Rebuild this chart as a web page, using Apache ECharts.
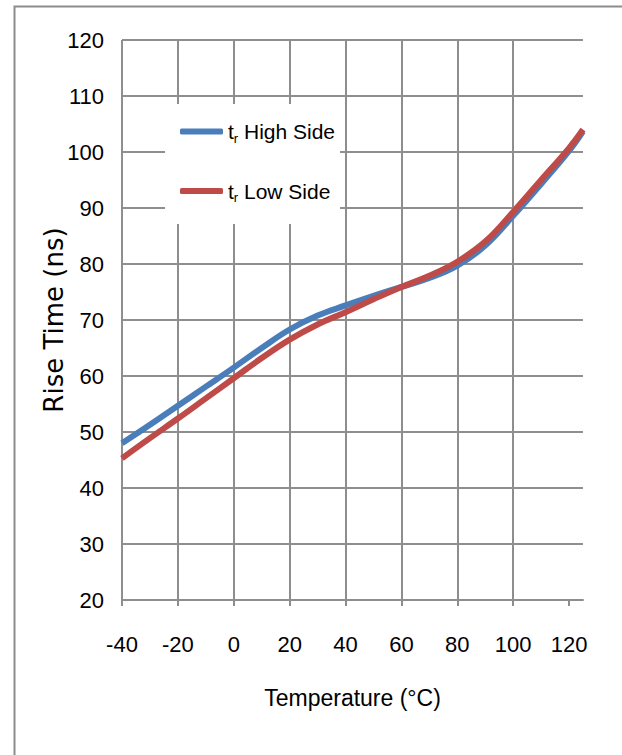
<!DOCTYPE html>
<html>
<head>
<meta charset="utf-8">
<script src="https://cdn.jsdelivr.net/npm/echarts@6/dist/echarts.min.js"></script>
<style>
html,body{margin:0;padding:0;background:#fff;}
#c{width:622px;height:755px;}
</style>
</head>
<body>
<div id="c"></div>
<script>
// Temperature (°C) sample points
const temps = [-40, -30, -20, -10, 0, 10, 20, 30, 40, 50, 60, 70, 80, 90, 100, 110, 120, 125];
// Rise time (ns)
const highSide = [48.0, 51.3, 54.7, 58.1, 61.5, 65.0, 68.3, 70.8, 72.6, 74.3, 75.9, 77.5, 79.7, 83.3, 88.6, 94.3, 100.2, 103.7];
const lowSide  = [45.3, 48.9, 52.4, 56.0, 59.6, 63.2, 66.5, 69.2, 71.4, 73.7, 75.9, 77.9, 80.4, 84.0, 89.3, 95.0, 100.7, 104.0];
const xTicks = [-40, -20, 0, 20, 40, 60, 80, 100, 120];
const seriesNames = ['High Side', 'Low Side'];

const FONT = "'Liberation Sans', Arial, sans-serif";
const GRID = '#8e8e8e';

const chart = echarts.init(document.getElementById('c'), null, {renderer: 'svg'});
const pairs = (vals) => temps.map((t, i) => [t, vals[i]]);

chart.setOption({
  backgroundColor: '#fff',
  animation: false,
  graphic: [{
    type: 'rect', left: 12, top: 4, shape: {width: 609, height: 800},
    style: {fill: 'none', stroke: '#8c8c8c', lineWidth: 2}, z: -10
  }],
  grid: {left: 122, right: 39, top: 40, bottom: 155},
  xAxis: {
    type: 'value', min: -40, max: 125, interval: 20,
    name: 'Temperature (°C)', nameLocation: 'middle', nameGap: 86, nameMoveOverlap: false,
    nameTextStyle: {fontFamily: FONT, fontSize: 23, color: '#000'},
    axisLine: {show: true, onZero: false, lineStyle: {color: GRID, width: 2}},
    axisTick: {show: true, length: 6, customValues: xTicks, lineStyle: {color: GRID, width: 2}},
    axisLabel: {customValues: xTicks, margin: 33, fontFamily: FONT, fontSize: 22, color: '#000'},
    splitLine: {show: true, showMaxLine: false, lineStyle: {color: GRID, width: 2}}
  },
  yAxis: {
    type: 'value', min: 20, max: 120, interval: 10,
    name: 'Rise Time (ns)', nameLocation: 'middle', nameGap: 55, nameMoveOverlap: false,
    nameTextStyle: {fontFamily: "'DejaVu Sans', sans-serif", fontSize: 26, color: '#000'},
    axisLine: {show: true, lineStyle: {color: GRID, width: 2}},
    axisTick: {show: true, length: 6, lineStyle: {color: GRID, width: 2}},
    axisLabel: {margin: 18, fontFamily: FONT, fontSize: 22, color: '#000'},
    splitLine: {show: true, lineStyle: {color: GRID, width: 2}}
  },
  legend: {
    orient: 'vertical', left: 165, top: 104,
    backgroundColor: '#fff',
    padding: [17, 5, 20, 15],
    itemWidth: 43, itemHeight: 6, itemGap: 36, icon: 'roundRect',
    formatter: (name) => '{a|t}{b|r}{a| ' + name + '}',
    textStyle: {
      rich: {
        a: {fontFamily: FONT, fontSize: 21, lineHeight: 26, color: '#000'},
        b: {fontFamily: FONT, fontSize: 13, lineHeight: 26, color: '#000', verticalAlign: 'bottom'}
      }
    },
    data: seriesNames
  },
  series: [
    {name: seriesNames[0], type: 'line', smooth: 0.4, symbol: 'none', data: pairs(highSide),
     lineStyle: {color: '#4A7EBB', width: 6}, itemStyle: {color: '#4A7EBB'}, z: 2},
    {name: seriesNames[1], type: 'line', smooth: 0.4, symbol: 'none', data: pairs(lowSide),
     lineStyle: {color: '#BE4B48', width: 6}, itemStyle: {color: '#BE4B48'}, z: 3}
  ]
});
</script>
</body>
</html>
